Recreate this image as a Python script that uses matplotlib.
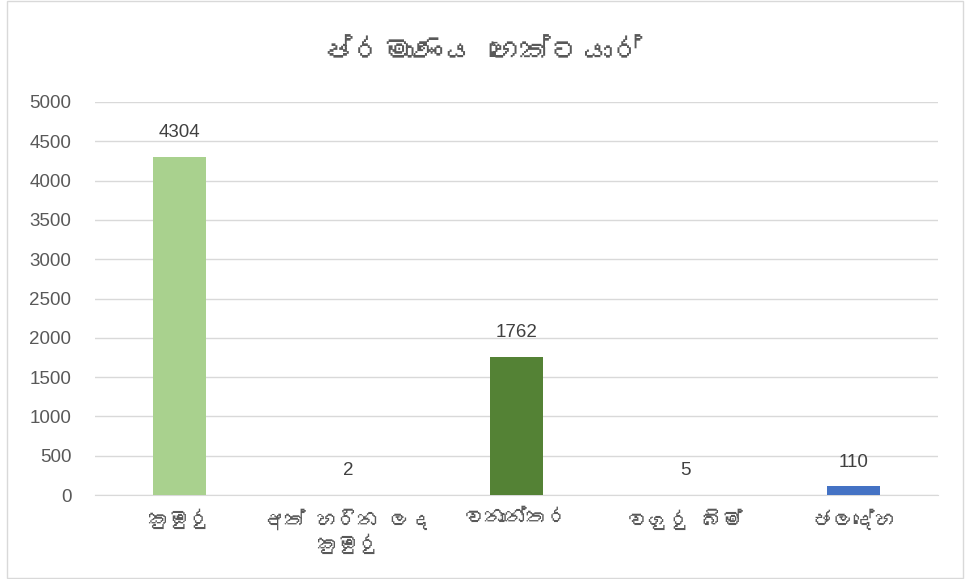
import matplotlib

matplotlib.use("Agg")
import matplotlib.pyplot as plt
from matplotlib import font_manager, ft2font
from matplotlib.patches import Rectangle

title = "ප්රමාණය හෙක්ටයාර්"
categories = ["කුඹුරු", "අත් හරින ලද\nකුඹුරු", "වනාන්තර", "වගුරු බිම්", "ජලදේහ"]
values = [4304, 2, 1762, 5, 110]
colors = ["#A9D18E", "#C5E0B4", "#548235", "#8FAADC", "#4472C4"]
yticks = [0, 500, 1000, 1500, 2000, 2500, 3000, 3500, 4000, 4500, 5000]


def sinhala_family():
    # look for any installed font that carries Sinhala glyphs
    for f in font_manager.fontManager.ttflist:
        try:
            if 0x0D9A in ft2font.FT2Font(f.fname).get_charmap():
                return f.name
        except Exception:
            continue
    return None


fam = sinhala_family()
sinhala = ([fam] if fam else []) + ["DejaVu Sans"]
latin = ["Liberation Sans", "DejaVu Sans"]
plt.rcParams["font.family"] = latin

fig = plt.figure(figsize=(9.65, 5.79), dpi=100)
fig.patches.append(Rectangle((7 / 965, 0.002), 956 / 965, 0.996, transform=fig.transFigure,
                             fill=False, edgecolor="#D9D9D9", linewidth=1))
ax = fig.add_axes([95 / 965, 1 - 495 / 579, 843 / 965, 393 / 579])

x = range(len(categories))
ax.bar(x, values, width=0.315, color=colors, zorder=3)
for xi, v in zip(x, values):
    ax.text(xi, v + 200, str(v), ha="center", va="bottom", fontsize=13.5, color="#404040",
            family=latin)

ax.set_xlim(-0.5, len(categories) - 0.5)
ax.set_ylim(0, 5000)
ax.set_yticks(yticks)
ax.set_yticklabels([str(t) for t in yticks], fontsize=13.5, color="#595959", family=latin)
ax.set_xticks(list(x))
ax.set_xticklabels(categories, fontsize=15, color="#595959", linespacing=1.2, va="top",
                   family=sinhala)
ax.tick_params(axis="x", length=0, pad=10)
ax.tick_params(axis="y", length=0, pad=17)
ax.grid(axis="y", color="#D9D9D9", linewidth=1, zorder=0)
for s in ["top", "right", "left"]:
    ax.spines[s].set_visible(False)
ax.spines["bottom"].set_color("#D9D9D9")

fig.text(0.5, 1 - 52 / 579, title, ha="center", va="center", fontsize=22, color="#595959",
         family=sinhala)

fig.savefig("out.png", dpi=100)
